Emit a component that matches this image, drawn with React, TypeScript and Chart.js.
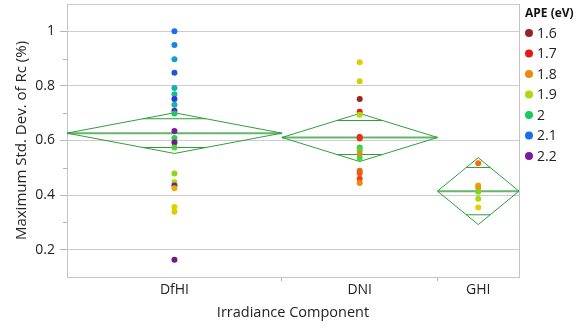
import React, { useEffect, useRef } from "react";
import { Chart, registerables } from "chart.js";

Chart.register(...registerables);

// ---- data ----
const categories = ["DfHI", "DNI", "GHI"];
const groupCounts = [29, 21, 11];
const groupMeans = [0.627, 0.611, 0.4145];
const groupCIHalf = [0.0745, 0.088, 0.1225];

const dfhiValues = [1.0, 0.95, 0.898, 0.848, 0.792, 0.769, 0.752, 0.731, 0.709, 0.699, 0.635, 0.609, 0.593, 0.574, 0.479, 0.447, 0.435, 0.425, 0.356, 0.339, 0.163];
const dfhiAPE = [2.1, 2.08, 2.06, 2.12, 2.04, 2.02, 2.14, 2.03, 2.18, 2.0, 2.2, 1.98, 2.22, 1.96, 1.92, 1.9, 2.2, 1.83, 1.85, 1.86, 2.22];

const dniValues = [0.887, 0.817, 0.752, 0.705, 0.694, 0.613, 0.607, 0.574, 0.564, 0.55, 0.536, 0.489, 0.48, 0.46, 0.444];
const dniAPE = [1.85, 1.87, 1.6, 1.7, 1.9, 1.7, 1.72, 1.98, 1.95, 1.8, 1.96, 1.77, 1.76, 1.74, 1.8];

const ghiValues = [0.517, 0.435, 0.426, 0.412, 0.387, 0.355];
const ghiAPE = [1.78, 1.82, 1.81, 1.93, 1.9, 1.85];

const legendAPE = [1.6, 1.7, 1.8, 1.9, 2, 2.1, 2.2];

// colour scale (style)
const apeColorStops: number[][] = [
  [1.6, 155, 35, 35],
  [1.7, 230, 25, 25],
  [1.8, 240, 135, 15],
  [1.85, 225, 205, 0],
  [1.9, 170, 218, 12],
  [2.0, 25, 200, 95],
  [2.05, 20, 170, 200],
  [2.1, 25, 110, 240],
  [2.15, 50, 40, 225],
  [2.2, 122, 26, 160],
  [2.25, 95, 22, 95],
];

function apeColor(a: number): string {
  const s = apeColorStops;
  if (a <= s[0][0]) return `rgb(${s[0][1]},${s[0][2]},${s[0][3]})`;
  for (let i = 0; i < s.length - 1; i++) {
    const p = s[i], q = s[i + 1];
    if (a >= p[0] && a <= q[0]) {
      const t = (a - p[0]) / (q[0] - p[0]);
      const c = [1, 2, 3].map((k) => Math.round(p[k] + (q[k] - p[k]) * t));
      return `rgb(${c[0]},${c[1]},${c[2]})`;
    }
  }
  const l = s[s.length - 1];
  return `rgb(${l[1]},${l[2]},${l[3]})`;
}

const FONT = "'Open Sans', 'Noto Sans', sans-serif";
const GREEN = "#2f9e3a";

export default function App() {
  const ref = useRef<HTMLCanvasElement | null>(null);

  useEffect(() => {
    if (!ref.current) return;
    const starts: number[] = [];
    let acc = 0;
    groupCounts.forEach((c) => { starts.push(acc); acc += c; });
    const total = acc;
    const centers = groupCounts.map((c, i) => starts[i] + c / 2);
    const bounds = [...starts, total];

    const groups = [
      { v: dfhiValues, a: dfhiAPE },
      { v: dniValues, a: dniAPE },
      { v: ghiValues, a: ghiAPE },
    ];
    const pts: { x: number; y: number }[] = [];
    const cols: string[] = [];
    groups.forEach((g, gi) => {
      g.v.forEach((y, k) => {
        pts.push({ x: centers[gi], y });
        cols.push(apeColor(g.a[k]));
      });
    });

    const lineDatasets: any[] = [];
    const lineStyle = { showLine: true, pointRadius: 0, pointHoverRadius: 0, fill: false, order: 1 };
    groupCounts.forEach((c, i) => {
      const s = starts[i], e = s + c, m = centers[i];
      const mean = groupMeans[i], h = groupCIHalf[i];
      lineDatasets.push({
        ...lineStyle, borderColor: GREEN, borderWidth: 1,
        data: [{ x: s, y: mean }, { x: m, y: mean + h }, { x: e, y: mean }, { x: m, y: mean - h }, { x: s, y: mean }],
      });
      lineDatasets.push({
        ...lineStyle, borderColor: "rgba(47,158,58,0.75)", borderWidth: 2,
        data: [{ x: s, y: mean }, { x: e, y: mean }],
      });
      const o = h / Math.SQRT2;
      const hw = (c / 2) * (1 - 1 / Math.SQRT2);
      [1, -1].forEach((sg) => {
        lineDatasets.push({
          ...lineStyle, borderColor: GREEN, borderWidth: 1,
          data: [{ x: m - hw, y: mean + sg * o }, { x: m + hw, y: mean + sg * o }],
        });
      });
    });

    const isMajor = (v: number) => {
      const t = Math.round(v * 10);
      return t % 2 === 0 && t >= 2 && t <= 10;
    };

    const extrasPlugin = {
      id: "extras",
      afterDraw(chart: any) {
        const { ctx, chartArea } = chart;
        const { top, bottom, left, right } = chartArea;
        ctx.save();
        ctx.strokeStyle = "#c4c4c4";
        ctx.lineWidth = 1;
        ctx.beginPath();
        ctx.moveTo(right + 0.5, top);
        ctx.lineTo(right + 0.5, bottom);
        ctx.stroke();
        // minor y ticks
        const ys = chart.scales.y;
        ctx.strokeStyle = "#b4b4b4";
        ys.ticks.forEach((t: any) => {
          const n = Math.round(t.value * 10);
          if (n % 2 === 1 && n > 1 && n < 11) {
            const py = Math.round(ys.getPixelForValue(t.value)) + 0.5;
            ctx.beginPath();
            ctx.moveTo(left - 4, py);
            ctx.lineTo(left, py);
            ctx.stroke();
          }
        });
        // legend
        ctx.fillStyle = "#111";
        ctx.textAlign = "left";
        ctx.textBaseline = "middle";
        ctx.font = `bold 12px ${FONT}`;
        ctx.fillText("APE (eV)", 525, 14);
        ctx.font = `14px ${FONT}`;
        legendAPE.forEach((a, i) => {
          const cy = 33 + i * 20.5;
          ctx.fillStyle = apeColor(a);
          ctx.beginPath();
          ctx.arc(529, cy, 4, 0, Math.PI * 2);
          ctx.fill();
          ctx.fillStyle = "#222";
          ctx.fillText(String(a), 537, cy + 1);
        });
        ctx.restore();
      },
    };

    const chart = new Chart(ref.current, {
      type: "scatter",
      data: {
        datasets: [
          { data: pts, backgroundColor: cols, borderWidth: 0, pointRadius: 3, pointHoverRadius: 3, order: 0 },
          ...lineDatasets,
        ],
      },
      options: {
        animation: false,
        responsive: false,
        layout: { padding: { top: 4, right: 67, left: 0, bottom: 0 } },
        plugins: { legend: { display: false }, tooltip: { enabled: false } },
        scales: {
          x: {
            type: "linear",
            min: 0,
            max: total,
            afterBuildTicks: (scale: any) => {
              const vals = [...bounds, ...centers].sort((a, b) => a - b);
              scale.ticks = vals.map((value) => ({ value }));
            },
            afterFit: (scale: any) => {
              scale.height = 51;
              scale.paddingLeft = 0;
              scale.paddingRight = 0;
            },
            ticks: {
              autoSkip: false,
              maxRotation: 0,
              minRotation: 0,
              padding: 1,
              color: "#222",
              font: { family: FONT, size: 14 },
              callback: (v: any) => {
                const i = centers.indexOf(Number(v));
                return i >= 0 ? categories[i] : "";
              },
            },
            grid: {
              drawOnChartArea: false,
              tickLength: 4,
              tickColor: (c: any) => {
                const v = c.tick ? c.tick.value : -1;
                return v > 0 && v < total && bounds.includes(v) ? "#b4b4b4" : "transparent";
              },
            },
            border: { display: true, color: "#c4c4c4", width: 1 },
            title: {
              display: true,
              text: "Irradiance Component",
              color: "#222",
              font: { family: FONT, size: 14.5 },
              padding: { top: 6, bottom: 6 },
            },
          },
          y: {
            type: "linear",
            min: 0.1,
            max: 1.1,
            afterFit: (scale: any) => {
              scale.width = 67;
              scale.paddingTop = 0;
              scale.paddingBottom = 0;
            },
            ticks: {
              stepSize: 0.1,
              autoSkip: false,
              padding: 5,
              color: "#222",
              font: { family: FONT, size: 14 },
              callback: (v: any) => (isMajor(Number(v)) ? String(Math.round(Number(v) * 10) / 10) : ""),
            },
            grid: {
              tickLength: 7,
              color: (c: any) => {
                const v = c.tick ? c.tick.value : 0;
                const t = Math.round(v * 10);
                return isMajor(v) || t === 11 ? "#cdcdcd" : "transparent";
              },
              tickColor: (c: any) => {
                const v = c.tick ? c.tick.value : 0;
                return isMajor(v) ? "#b4b4b4" : "transparent";
              },
            },
            border: { display: true, color: "#c4c4c4", width: 1 },
            title: {
              display: true,
              text: "Maximum Std. Dev. of Rc (%)",
              color: "#222",
              font: { family: FONT, size: 15 },
              padding: { top: 13, bottom: 0 },
            },
          },
        },
      },
      plugins: [extrasPlugin],
    } as any);
    return () => chart.destroy();
  }, []);

  return (
    <div style={{ position: "absolute", left: 0, top: 0, width: 586, height: 328, background: "#fff" }}>
      <canvas ref={ref} width={586} height={328} />
    </div>
  );
}
